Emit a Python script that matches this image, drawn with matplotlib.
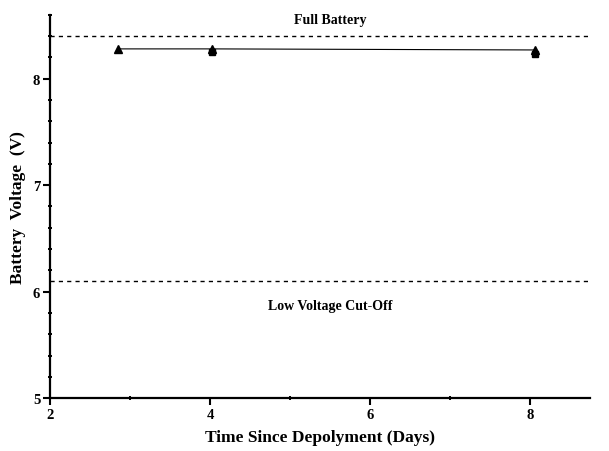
import matplotlib.pyplot as plt
from matplotlib.ticker import MultipleLocator

# --- data ---
days_tri = [2.85, 4.03, 8.06]
volt_tri = [8.28, 8.28, 8.27]
days_sq = [4.03, 8.06]
volt_sq = [8.25, 8.23]
full_battery = 8.4
cutoff = 6.1

plt.rcParams['font.family'] = ['Liberation Serif', 'DejaVu Serif']
plt.rcParams['font.weight'] = 'bold'

fig = plt.figure(figsize=(6.09, 4.52), dpi=100)
ax = fig.add_axes([0.082, 0.117, 0.887, 0.848])

ax.axhline(full_battery, color='black', ls=(0, (3, 3)), lw=1)
ax.axhline(cutoff, color='black', ls=(0, (3, 3)), lw=1)

ax.plot(days_sq, volt_sq, 's', color='black', ms=5)
ax.plot(days_tri, volt_tri, '-^', color='black', ms=6, lw=0.8)

ax.text(5.5, 8.56, 'Full Battery', ha='center', va='center', fontsize=10, fontweight='bold')
ax.text(5.5, 5.87, 'Low Voltage Cut-Off', ha='center', va='center', fontsize=10, fontweight='bold')

ax.set_xlim(2, 8.75)
ax.set_ylim(5, 8.6)
ax.xaxis.set_major_locator(MultipleLocator(2))
ax.xaxis.set_minor_locator(MultipleLocator(1))
ax.yaxis.set_major_locator(MultipleLocator(1))
ax.yaxis.set_minor_locator(MultipleLocator(0.2))

for side in ['top', 'right']:
    ax.spines[side].set_visible(False)
for side in ['left', 'bottom']:
    ax.spines[side].set_linewidth(1.6)

ax.tick_params(which='major', direction='out', length=5, width=1.5, labelsize=10.5, pad=2)
ax.tick_params(which='minor', direction='inout', length=3, width=1.4)
for lab in ax.get_xticklabels() + ax.get_yticklabels():
    lab.set_fontweight('bold')

ax.set_xlabel('Time Since Depolyment (Days)', fontsize=12.5, fontweight='bold', labelpad=6)
ax.set_ylabel('Battery  Voltage  (V)', fontsize=12.5, fontweight='bold', labelpad=5)

fig.savefig('out.png', dpi=100)
